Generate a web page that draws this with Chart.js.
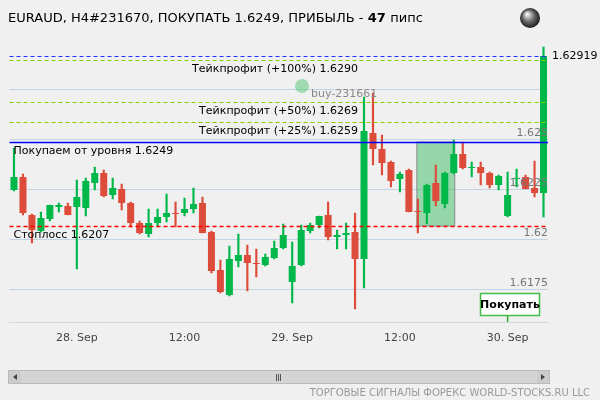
<!DOCTYPE html>
<html>
<head>
<meta charset="utf-8">
<script src="https://cdn.jsdelivr.net/npm/chart.js@4/dist/chart.umd.min.js"></script>
<style>
  html, body { margin: 0; padding: 0; background: #f0f0f0; }
  #wrap { width: 600px; height: 400px; }
</style>
</head>
<body>
<div id="wrap"><canvas id="myChart" width="600" height="400"></canvas></div>
<script>
// свечи EURAUD
let openP = [1.6225,1.62315,1.62125,1.62045,1.62105,1.62165,1.6217,1.62165,1.6216,1.62285,
  1.62335,1.62225,1.62255,1.62185,1.62085,1.6203,1.62085,1.62115,1.62135,1.62135,
  1.62155,1.62185,1.6204,1.6185,1.61725,1.61895,1.61925,1.61885,1.61875,1.6191,
  1.6196,1.6179,1.61875,1.62045,1.62075,1.62125,1.62015,1.62025,1.6204,1.61905,
  1.62535,1.62455,1.6239,1.62305,1.6235,1.62145,1.62135,1.62285,1.6218,1.62335,
  1.6243,1.6236,1.62365,1.62335,1.62275,1.6212,1.62305,1.62315,1.6226,1.62235]
let highP = [1.6246,1.6233,1.6213,1.6214,1.62175,1.62185,1.62185,1.623,1.6231,1.62365,
  1.6235,1.6231,1.6228,1.6219,1.62095,1.62155,1.62155,1.6223,1.6219,1.6221,
  1.6226,1.62215,1.62045,1.619,1.6197,1.6203,1.61975,1.61955,1.6193,1.61995,
  1.6208,1.6199,1.62075,1.62085,1.6212,1.6219,1.6205,1.62085,1.62135,1.62715,
  1.62735,1.62525,1.62395,1.6234,1.62355,1.62205,1.6228,1.62375,1.6234,1.625,
  1.6249,1.6239,1.6239,1.6234,1.62325,1.6234,1.62355,1.62325,1.62395,1.62965]
let lowP = [1.62245,1.62125,1.61985,1.6204,1.62095,1.6214,1.62125,1.61855,1.6212,1.6225,
  1.62215,1.62205,1.6215,1.62065,1.6203,1.62015,1.62065,1.6209,1.62065,1.6212,
  1.62135,1.62035,1.61835,1.61735,1.6172,1.61865,1.61745,1.61815,1.6187,1.61905,
  1.61955,1.61685,1.6187,1.62035,1.6206,1.62,1.61955,1.61955,1.61655,1.6176,
  1.62375,1.62325,1.62265,1.6224,1.6214,1.62035,1.6208,1.6217,1.6216,1.6233,
  1.62355,1.62315,1.62275,1.6226,1.6225,1.62115,1.62265,1.62255,1.62215,1.62115]
let closeP = [1.62315,1.62135,1.6205,1.6211,1.62175,1.62175,1.62125,1.62215,1.62295,1.62335,
  1.6222,1.6226,1.62185,1.62085,1.62035,1.62085,1.62115,1.62135,1.6213,1.62155,
  1.6218,1.62035,1.61845,1.6174,1.61905,1.61925,1.61885,1.6188,1.61915,1.6196,
  1.62025,1.6187,1.6205,1.62075,1.6212,1.62015,1.62025,1.62035,1.61905,1.62545,
  1.62455,1.62385,1.62295,1.6233,1.6214,1.6214,1.62275,1.62195,1.62335,1.6243,
  1.6236,1.62365,1.62335,1.62275,1.6232,1.62225,1.6231,1.62255,1.62235,1.6292]

let timeLabels = ['28. Sep','12:00','29. Sep','12:00','30. Sep']
let timeIndex = [7,19,31,43,55]
let yTicks = [1.6175,1.62,1.6225,1.625,1.6275]
let yTickLabels = ['1.6175','1.62','1.6225','1.625','']

let entry = 1.6249, stop = 1.6207, lastPrice = 1.62919
let takeProfits = [1.6290,1.6269,1.6259]
let tpNames = ['Тейкпрофит (+100%) 1.6290','Тейкпрофит (+50%) 1.6269','Тейкпрофит (+25%) 1.6259']
let orderLevel = 1.6276

const GREEN = '#00b74a', RED = '#dd4b3b'
let cats = openP.map((o,i)=> String(i))
let colors = openP.map((o,i)=> closeP[i] >= o ? GREEN : RED)

const overlay = {
  id: 'overlay',
  beforeDatasetsDraw(chart) {
    const c = chart.ctx, x = chart.scales.x, y = chart.scales.y
    // зона вход-стоп
    let x1 = x.getPixelForValue(45) - 1, x2 = x.getPixelForValue(49) + 1
    let y1 = y.getPixelForValue(entry), y2 = y.getPixelForValue(stop)
    c.save()
    c.fillStyle = 'rgba(60,190,100,0.5)'
    c.fillRect(x1, y1, x2-x1, y2-y1)
    c.strokeStyle = '#888'; c.lineWidth = 1
    c.strokeRect(x1, y1, x2-x1, y2-y1)
    c.restore()
  },
  afterDatasetsDraw(chart) {
    const c = chart.ctx, x = chart.scales.x, y = chart.scales.y, a = chart.chartArea
    const F = '"DejaVu Sans", sans-serif'
    c.save()
    function hline(v, col, dash, w) {
      let py = Math.round(y.getPixelForValue(v)) + 0.5
      c.strokeStyle = col; c.lineWidth = w || 1; c.setLineDash(dash)
      c.beginPath(); c.moveTo(a.left, py); c.lineTo(a.right, py); c.stroke()
      c.setLineDash([])
      return py
    }
    hline(lastPrice, '#2233ff', [4,3])
    c.font = '11px ' + F; c.fillStyle = '#000'
    takeProfits.forEach((v,i)=>{
      let py = hline(v, '#88cc00', [4,3])
      c.textAlign = 'right'; c.textBaseline = 'top'
      c.fillText(tpNames[i], 358, py + 3)
    })
    let py = hline(entry, '#0000ff', [], 1.5)
    c.textAlign = 'left'; c.fillText('Покупаем от уровня 1.6249', a.left + 4, py + 3)
    py = hline(stop, '#ff0000', [4,3], 1.5)
    c.fillText('Стоплосс 1.6207', a.left + 4, py + 3)

    // ордер
    py = y.getPixelForValue(orderLevel)
    c.fillStyle = 'rgba(60,190,100,0.45)'
    c.beginPath(); c.arc(302, py - 2, 7, 0, Math.PI*2); c.fill()
    c.fillStyle = '#888'; c.textAlign = 'left'; c.textBaseline = 'top'
    c.fillText('buy-231661', 311, py + 1)

    // подписи оси
    c.fillStyle = '#777'; c.textAlign = 'right'; c.textBaseline = 'bottom'
    yTicks.forEach((v,i)=> c.fillText(yTickLabels[i], a.right, y.getPixelForValue(v) - 1))
    c.fillStyle = '#000'; c.textAlign = 'left'; c.textBaseline = 'middle'
    c.fillText('1.62919', a.right + 4, y.getPixelForValue(lastPrice))

    // кнопка
    let bx = x.getPixelForValue(55)
    c.strokeStyle = '#3a3'; c.beginPath(); c.moveTo(bx, 316); c.lineTo(bx, a.bottom); c.stroke()
    c.fillStyle = '#fff'; c.fillRect(480, 293, 60, 23)
    c.strokeStyle = '#4b4'; c.lineWidth = 1.5; c.strokeRect(480.5, 293.5, 59, 22)
    c.fillStyle = '#000'; c.font = 'bold 11px ' + F; c.textAlign = 'center'
    c.fillText('Покупать', 510, 305)

    // заголовок
    c.textAlign = 'left'; c.textBaseline = 'alphabetic'; c.font = '13px ' + F
    let t1 = 'EURAUD, H4#231670, ПОКУПАТЬ 1.6249, ПРИБЫЛЬ - '
    c.fillText(t1, 8, 22)
    let w = c.measureText(t1).width
    c.font = 'bold 13px ' + F; c.fillText('47', 8 + w, 22)
    let w2 = c.measureText('47 ').width
    c.font = '13px ' + F; c.fillText('пипс', 8 + w + w2, 22)

    // глобус
    let g = c.createRadialGradient(527, 14, 1, 530, 18, 11)
    g.addColorStop(0, '#eee'); g.addColorStop(0.5, '#666'); g.addColorStop(1, '#111')
    c.fillStyle = g; c.beginPath(); c.arc(530, 18, 10, 0, Math.PI*2); c.fill()

    // скроллбар
    c.fillStyle = '#e0e0e0'; c.fillRect(8, 370, 542, 14)
    c.strokeStyle = '#bbb'; c.lineWidth = 1; c.strokeRect(8.5, 370.5, 541, 13)
    c.fillStyle = '#d4d4d4'; c.fillRect(21, 371, 516, 12)
    c.fillStyle = '#ccc'; c.fillRect(9, 371, 12, 12); c.fillRect(537, 371, 12, 12)
    c.fillStyle = '#444'
    c.beginPath(); c.moveTo(13, 377); c.lineTo(17, 374); c.lineTo(17, 380); c.fill()
    c.beginPath(); c.moveTo(545, 377); c.lineTo(541, 374); c.lineTo(541, 380); c.fill()
    c.strokeStyle = '#555'
    for (let k = -2; k <= 2; k += 2) { c.beginPath(); c.moveTo(278.5 + k, 374); c.lineTo(278.5 + k, 381); c.stroke() }

    c.fillStyle = '#999'; c.font = '10px ' + F; c.textAlign = 'right'
    c.fillText('ТОРГОВЫЕ СИГНАЛЫ ФОРЕКС WORLD-STOCKS.RU LLC', 590, 396)
    c.restore()
  }
}

const ctx = document.getElementById('myChart').getContext('2d')
const myChart = new Chart(ctx, {
  type: 'bar',
  data: {
    labels: cats,
    datasets: [
      { data: lowP.map((l,i)=>[l, highP[i]]), backgroundColor: colors, barThickness: 1.5, grouped: false, order: 2 },
      { data: openP.map((o,i)=>[o, closeP[i]]), backgroundColor: colors, barPercentage: 0.78, categoryPercentage: 1, grouped: false, order: 1, minBarLength: 1 }
    ]
  },
  options: {
    responsive: false,
    animation: false,
    devicePixelRatio: 1,
    layout: { padding: { left: 9.5, top: 40, bottom: 40, right: 0 } },
    plugins: { legend: { display: false }, tooltip: { enabled: false } },
    scales: {
      x: {
        offset: true,
        grid: { display: false, drawTicks: false },
        border: { color: '#d0d8e0' },
        ticks: {
          autoSkip: false, maxRotation: 0, color: '#444', padding: 10,
          font: { family: 'DejaVu Sans', size: 11 },
          callback: (v, i)=> { let k = timeIndex.indexOf(i); return k >= 0 ? timeLabels[k] : '' }
        },
        afterFit: s => { s.height = 38 }
      },
      y: {
        position: 'right',
        min: 1.6159, max: 1.6300,
        afterBuildTicks: s => { s.ticks = yTicks.map(v => ({ value: v })) },
        grid: { color: '#c4d4e4', drawTicks: false },
        border: { display: false },
        ticks: { display: false },
        afterFit: s => { s.width = 52 }
      }
    }
  },
  plugins: [overlay]
})
</script>
</body>
</html>
